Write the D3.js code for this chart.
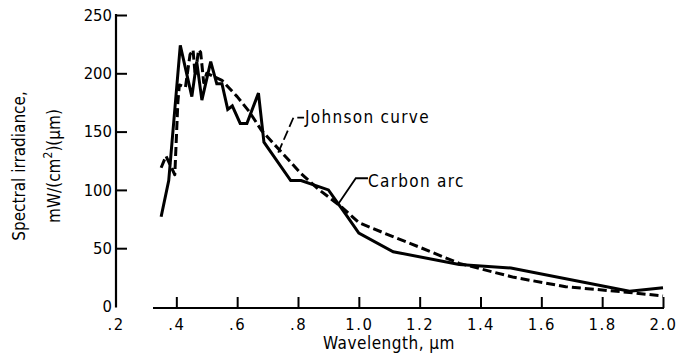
<!DOCTYPE html>
<html>
<head>
<meta charset="utf-8">
<script src="https://cdn.jsdelivr.net/npm/d3@7/dist/d3.min.js"></script>
<style>
  html, body { margin: 0; padding: 0; background: #fff; }
  svg { display: block; }
  text { font-family: "DejaVu Sans Condensed", "DejaVu Sans", sans-serif; font-stretch: condensed; fill: #000; }
</style>
</head>
<body>
<svg id="chart" width="678" height="358"></svg>
<script>
// ---- data ----
const carbonWl = [0.35, 0.375, 0.413, 0.451, 0.467, 0.484, 0.513, 0.533, 0.55, 0.569, 0.584, 0.61, 0.632, 0.67, 0.688, 0.776, 0.81, 0.9, 0.96, 1.0, 1.113, 1.33, 1.5, 1.89, 2.0];
const carbonVal = [77, 108, 224, 180, 210, 177, 210, 191, 191, 169, 172, 157, 157, 183, 141, 108, 108, 100, 78, 63, 47, 36, 33, 13, 16];

const johnsonWl = [0.35, 0.366, 0.395, 0.405, 0.41, 0.43, 0.445, 0.455, 0.462, 0.473, 0.48, 0.49, 0.5, 0.55, 0.6, 0.64, 0.68, 0.74, 0.81, 0.87, 0.94, 1.0, 1.12, 1.17, 1.33, 1.51, 1.68, 1.89, 2.0];
const johnsonVal = [119, 129, 113, 175, 190, 188, 216, 220, 198, 220, 218, 192, 200, 194, 180, 167, 151, 134, 114, 100, 86, 72, 59, 54, 37, 25, 17, 12, 9];

const xTicks = [0.2, 0.4, 0.6, 0.8, 1.0, 1.2, 1.4, 1.6, 1.8, 2.0];
const xTickLabels = [".2", ".4", ".6", ".8", "1.0", "1.2", "1.4", "1.6", "1.8", "2.0"];
const yTicks = [0, 50, 100, 150, 200, 250];

// ---- scales ----
const svg = d3.select("#chart");
const x = d3.scaleLinear().domain([0.2, 2.0]).range([115.5, 663]);
const y = d3.scaleLinear().domain([0, 250]).range([306.5, 15]);

// ---- y axis ----
const yAxis = d3.axisLeft(y).tickValues(yTicks).tickSizeInner(-11).tickSizeOuter(0).tickPadding(4).tickFormat(d3.format("d"));
const gy = svg.append("g").attr("transform", "translate(116,0)").call(yAxis);
gy.select(".domain").remove();
gy.selectAll(".tick line").attr("stroke", "#000").attr("stroke-width", 2)
  .filter(d => d === 0).remove();
gy.selectAll(".tick text").attr("font-size", 16.5).attr("font-family", null);
gy.append("line").attr("x1", 0).attr("x2", 0).attr("y1", y(250) - 1).attr("y2", y(0) + 1)
  .attr("stroke", "#000").attr("stroke-width", 2.2);

// ---- x axis ----
const xAxis = d3.axisBottom(x).tickValues(xTicks).tickSizeInner(-11).tickSizeOuter(0).tickPadding(10)
  .tickFormat((d, i) => xTickLabels[i]);
const gx = svg.append("g").attr("transform", "translate(0,308)").call(xAxis);
gx.select(".domain").remove();
gx.selectAll(".tick line").attr("stroke", "#000").attr("stroke-width", 2)
  .filter(d => d === 0.2).remove();
gx.selectAll(".tick text").attr("font-size", 16.5).attr("font-family", null).attr("letter-spacing", 1.5);
gx.append("line").attr("x1", 153).attr("x2", x(2.0) + 1).attr("y1", 0).attr("y2", 0)
  .attr("stroke", "#000").attr("stroke-width", 2);

// ---- lines ----
const line = d3.line().x(d => x(d[0])).y(d => y(d[1]));
const carbon = carbonWl.map((w, i) => [w, carbonVal[i]]);
const johnson = johnsonWl.map((w, i) => [w, johnsonVal[i]]);

svg.append("path").datum(johnson).attr("d", line)
  .attr("fill", "none").attr("stroke", "#000").attr("stroke-width", 3)
  .attr("stroke-dasharray", "9,4").attr("stroke-linejoin", "round");
svg.append("path").datum(carbon).attr("d", line)
  .attr("fill", "none").attr("stroke", "#000").attr("stroke-width", 3)
  .attr("stroke-linejoin", "miter");

// ---- annotations ----
svg.append("path").attr("d", `M${x(0.735)},${y(132)} L${x(0.785)},${y(162)} L${x(0.82)},${y(162)}`)
  .attr("fill", "none").attr("stroke", "#000").attr("stroke-width", 1.8).attr("stroke-dasharray", "10,4");
svg.append("text").attr("x", 305).attr("y", 123).attr("font-size", 17).attr("letter-spacing", 1.3).text("Johnson curve");

svg.append("path").attr("d", `M${x(0.93)},${y(87)} L${x(0.99)},${y(110)} L${x(1.03)},${y(110)}`)
  .attr("fill", "none").attr("stroke", "#000").attr("stroke-width", 1.8);
svg.append("text").attr("x", 368).attr("y", 187).attr("font-size", 17).attr("letter-spacing", 1.3).text("Carbon arc");

// ---- axis titles ----
svg.append("text").attr("x", 389).attr("y", 349).attr("text-anchor", "middle").attr("font-size", 17)
  .attr("letter-spacing", 0.5).text("Wavelength, \u03bcm");

const yt = svg.append("text").attr("transform", "translate(0,166) rotate(-90)").attr("text-anchor", "middle").attr("font-size", 17);
yt.append("tspan").attr("x", 0).attr("y", 25).text("Spectral irradiance,");
const t2 = yt.append("tspan").attr("x", 0).attr("y", 60);
t2.text("mW/(cm");
yt.append("tspan").attr("dy", -8).attr("font-size", 12).text("2");
yt.append("tspan").attr("dy", 8).text(")(\u03bcm)");
</script>
</body>
</html>
